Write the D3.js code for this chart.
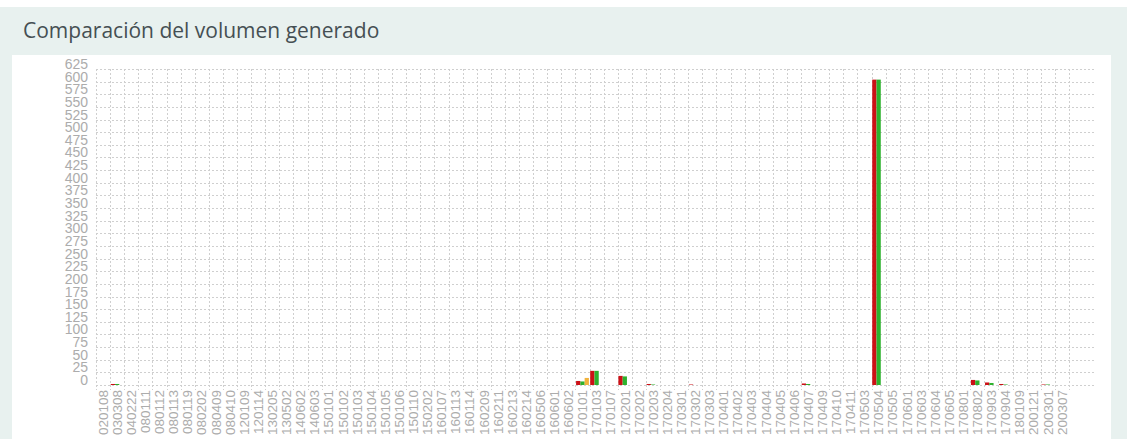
<html lang="es">

<head>
  <meta charset="utf-8">
  <title>Comparación del volumen generado</title>
  <script type="text/javascript" src="https://d3js.org/d3.v7.min.js"></script>
  <style>
    body { margin: 0; background: #fff; }
    #wrap { position: absolute; left: 0; top: 7px; width: 1127px; height: 432px; background: #e8f1ef; }
    svg { position: absolute; left: 0; top: 0; }
  </style>
</head>

<body>
  <div id="wrap"></div>
  <svg width="1127" height="439"></svg>
  <script>
    const categories = ["020108", "030308", "040222", "080111", "080112", "080113", "080119", "080202", "080409", "080410",
      "120109", "120114", "130205", "130502", "140602", "140603", "150101", "150102", "150103", "150104",
      "150105", "150106", "150110", "150202", "160107", "160113", "160114", "160209", "160211", "160213",
      "160214", "160506", "160601", "160602", "170101", "170103", "170107", "170201", "170202", "170203",
      "170204", "170301", "170302", "170303", "170401", "170402", "170403", "170404", "170405", "170406",
      "170407", "170409", "170410", "170411", "170503", "170504", "170505", "170601", "170603", "170604",
      "170605", "170801", "170802", "170903", "170904", "180109", "200121", "200301", "200307"];

    // valores (el resto es 0)
    const rojo = categories.map(() => 0);
    const verde = categories.map(() => 0);
    const naranja = categories.map(() => 0);
    const puntos = [
      ["030308", 2, 2, 0], ["170101", 8, 7, 14], ["170103", 28, 28, 0], ["170201", 18, 17, 0],
      ["170203", 2, 1, 0], ["170302", 1, 0, 0], ["170407", 3, 2, 0], ["170504", 604, 604, 0],
      ["170802", 10, 9, 0], ["170903", 5, 4, 0], ["170904", 2, 1, 0], ["200301", 1, 1, 0]
    ];
    puntos.forEach(p => {
      const i = categories.indexOf(p[0]);
      rojo[i] = p[1]; verde[i] = p[2]; naranja[i] = p[3];
    });
    const yTicks = d3.range(0, 626, 25);

    const series = [
      { key: "rojo", values: rojo, color: "#cc1016" },
      { key: "verde", values: verde, color: "#2db22d" },
      { key: "naranja", values: naranja, color: "#f2b33d" }
    ];

    const svg = d3.select("svg");

    // panel blanco
    svg.append("rect").attr("x", 12).attr("y", 55).attr("width", 1099).attr("height", 390).attr("fill", "#fff");

    svg.append("text")
      .attr("x", 23).attr("y", 38)
      .attr("font-family", "'Open Sans', sans-serif")
      .attr("font-size", 21)
      .attr("fill", "#454f53")
      .text("Comparación del volumen generado");

    const left = 96, right = 1069, gridRight = 1096;
    const x = d3.scaleBand().domain(categories).range([left, right]);
    const x1 = d3.scaleBand().domain(series.map(s => s.key)).range([0, x.bandwidth()]).paddingOuter(0.15);
    const y = d3.scaleLinear().domain([0, 625]).range([385, 69]);

    const grid = svg.append("g").attr("stroke", "#cfcfcf").attr("stroke-dasharray", "2,2").attr("stroke-width", 1);
    grid.selectAll("line.h").data(yTicks).enter().append("line")
      .attr("x1", left).attr("x2", gridRight)
      .attr("y1", d => Math.round(y(d)) + 0.5).attr("y2", d => Math.round(y(d)) + 0.5);
    grid.selectAll("line.v").data(categories.concat(["_end"])).enter().append("line")
      .attr("x1", (d, i) => Math.round(left + i * x.step()) + 0.5)
      .attr("x2", (d, i) => Math.round(left + i * x.step()) + 0.5)
      .attr("y1", y(625)).attr("y2", 390);

    // eje y
    const yAxis = svg.append("g").attr("transform", "translate(88,-5)")
      .call(d3.axisLeft(y).tickValues(yTicks).tickSize(0).tickPadding(0));
    yAxis.select(".domain").remove();
    yAxis.selectAll("text").attr("font-family", "'Liberation Sans', Arial, sans-serif")
      .attr("font-size", 14).attr("fill", "#acacac");

    // eje x
    const xAxis = svg.append("g").attr("transform", "translate(0,389)")
      .call(d3.axisBottom(x).tickSize(0).tickPadding(0));
    xAxis.select(".domain").remove();
    xAxis.selectAll("text")
      .attr("font-family", "'Liberation Sans', Arial, sans-serif")
      .attr("font-size", 13.5).attr("fill", "#acacac")
      .attr("transform", "rotate(-90)")
      .attr("text-anchor", "end")
      .attr("x", -1).attr("y", 0).attr("dy", "0.35em");

    // barras
    const groups = svg.append("g").selectAll("g").data(categories).enter().append("g")
      .attr("transform", d => `translate(${x(d)},0)`);
    groups.selectAll("rect")
      .data((d, i) => series.map(s => ({ key: s.key, color: s.color, v: s.values[i] })))
      .enter().append("rect")
      .attr("x", d => x1(d.key))
      .attr("width", x1.bandwidth())
      .attr("y", d => y(d.v))
      .attr("height", d => y(0) - y(d.v))
      .attr("fill", d => d.color);
  </script>
</body>

</html>
